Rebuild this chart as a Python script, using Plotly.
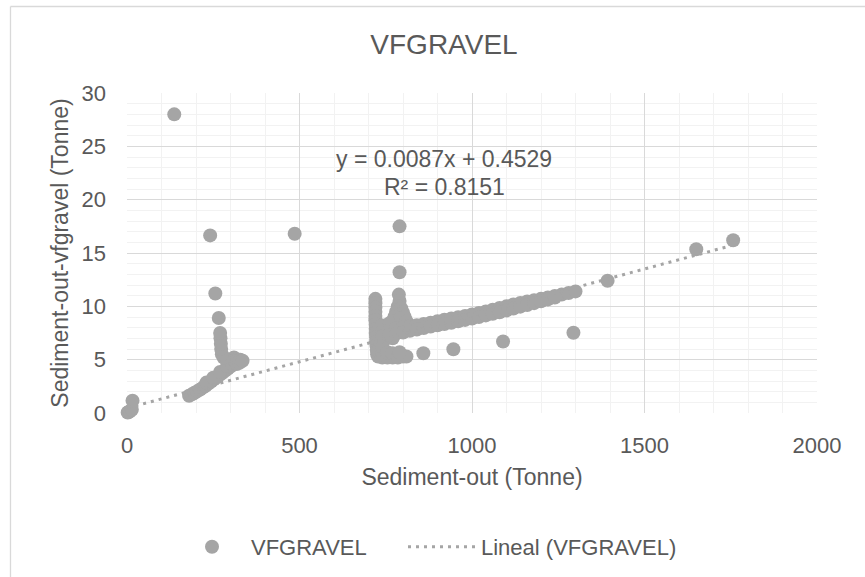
import plotly.graph_objects as go

# ---- data ----
sediment_out = [
    # near origin
    2, 5, 8, 14, 16,
    # left diagonal band
    180, 188, 196, 204, 212, 220, 228, 236, 244, 252, 260, 268, 276, 284, 292, 300,
    230, 250, 270, 290,
    # small blob ~300-330
    298, 305, 310, 312, 318, 320, 326, 328, 335,
    # chain upward
    280, 275, 273, 272, 271, 270, 266, 256, 241, 486, 137,
    # vertical bar at ~720
    720, 720, 720, 720, 720, 720, 721, 721, 721, 722, 722, 723, 724, 725,
    # spike ~790
    790, 790, 788, 790, 785, 795, 780, 800, 775, 805, 770, 790, 810,
    # fill between bar and band
    740, 755, 740, 760, 745, 770, 780, 800, 820, 760,
    # lower blob
    728, 728, 740, 740, 740, 755, 755, 770, 770, 785, 800, 810, 790,
    # band upper row
    740, 760, 780, 800, 820, 840, 860, 880, 900, 920, 940, 960, 980, 1000,
    1020, 1040, 1060, 1080, 1100, 1120, 1140, 1160, 1180, 1200, 1220, 1240,
    1260, 1280, 1300,
    # band lower row
    740, 760, 780, 800, 820, 840, 860, 880, 900, 920, 940, 960, 980, 1000,
    1020, 1040, 1060, 1080, 1100, 1120, 1140, 1160, 1180, 1200, 1220, 1240,
    # outliers
    859, 946, 1090, 1294, 1393, 1650, 1757,
]

vfgravel = [
    0.05, 0.1, 0.15, 0.3, 1.15,
    1.62, 1.75, 1.9, 2.05, 2.2, 2.38, 2.55, 2.75, 2.95, 3.15, 3.35, 3.55, 3.75, 3.95, 4.15, 4.35,
    2.85, 3.3, 3.85, 4.4,
    4.9, 4.6, 5.2, 4.9, 4.6, 5.0, 4.7, 5.0, 4.9,
    5.2, 5.5, 6.0, 6.5, 7.0, 7.5, 8.9, 11.2, 16.65, 16.8, 28.0,
    10.7, 10.3, 9.9, 9.5, 9.1, 8.7, 8.3, 7.9, 7.5, 7.1, 6.7, 6.3, 5.9, 5.5,
    17.5, 13.2, 11.1, 10.5, 10.0, 9.8, 9.5, 9.4, 9.0, 9.0, 8.6, 8.8, 8.6,
    8.2, 8.0, 7.5, 7.3, 6.8, 7.0, 7.6, 8.0, 8.2, 8.4,
    5.3, 5.8, 5.2, 5.7, 6.2, 5.2, 5.7, 5.2, 5.6, 5.2, 5.3, 5.3, 5.7,
    7.7, 7.8, 7.95, 8.05, 8.15, 8.22, 8.34, 8.46, 8.6, 8.74, 8.86, 8.98, 9.1, 9.23,
    9.38, 9.52, 9.68, 9.84, 10.0, 10.17, 10.32, 10.45, 10.58, 10.7, 10.83, 10.97,
    11.1, 11.25, 11.4,
    7.2, 7.3, 7.45, 7.55, 7.7, 7.82, 7.97, 8.1, 8.22, 8.34, 8.46, 8.6, 8.73, 8.86,
    9.0, 9.15, 9.3, 9.45, 9.62, 9.8, 9.97, 10.12, 10.3, 10.48, 10.65, 10.82,
    5.6, 5.97, 6.7, 7.53, 12.4, 15.35, 16.2,
]

trend_slope = 0.0087
trend_intercept = 0.4529
r_squared = 0.8151

series_name = "VFGRAVEL"
trend_name = "Lineal (VFGRAVEL)"
x_ticks = [0, 500, 1000, 1500, 2000]
y_ticks = [0, 5, 10, 15, 20, 25, 30]

# ---- styles ----
GREY = "#A5A5A5"
TEXT = "#595959"
FONT = "Liberation Sans, Arial, sans-serif"

x_min, x_max = min(sediment_out), max(sediment_out)
trend_x = [x_min, x_max]
trend_y = [trend_slope * v + trend_intercept for v in trend_x]

fig = go.Figure()
fig.add_trace(go.Scatter(
    x=sediment_out, y=vfgravel, mode="markers", name=series_name,
    marker=dict(color=GREY, size=14, line=dict(width=0)),
    cliponaxis=False, legendwidth=147,
))
fig.add_trace(go.Scatter(
    x=trend_x, y=trend_y, mode="lines", name=trend_name,
    line=dict(color=GREY, width=3, dash="3px,5px"),
    cliponaxis=False,
))

fig.add_annotation(
    x=920, y=23.8, xref="x", yref="y",
    text=f"y = {trend_slope}x + {trend_intercept}",
    showarrow=False, font=dict(size=23, color=TEXT, family=FONT),
    xanchor="center", yanchor="middle",
)
fig.add_annotation(
    x=920, y=21.2, xref="x", yref="y",
    text=f"R² = {r_squared}",
    showarrow=False, font=dict(size=23, color=TEXT, family=FONT),
    xanchor="center", yanchor="middle",
)

# chart-area border (left & top visible in the crop)
L, T, B = 127, 93, 413
PW, PH = 690, 320
bx = (10.5 - L) / PW
by_top = (B - 6.5) / PH
fig.add_shape(type="line", xref="paper", yref="paper",
              x0=bx, x1=bx, y0=by_top, y1=(B - 600) / PH,
              line=dict(color="#D9D9D9", width=1.3))
fig.add_shape(type="line", xref="paper", yref="paper",
              x0=bx, x1=(900 - L) / PW, y0=by_top, y1=by_top,
              line=dict(color="#D9D9D9", width=1.3))

fig.update_layout(
    width=865, height=577,
    margin=dict(l=L, r=865 - 817, t=T, b=577 - B, pad=0, autoexpand=False),
    paper_bgcolor="white", plot_bgcolor="white",
    font=dict(family=FONT, color=TEXT, size=22),
    title=dict(text=series_name, x=444 / 865, xanchor="center",
               y=1 - 44 / 577, yanchor="middle",
               font=dict(size=28, color=TEXT, family=FONT)),
    showlegend=True,
    legend=dict(orientation="h", x=(173 - L) / PW, xanchor="left",
                y=(B - 547) / PH, yanchor="middle", itemwidth=68,
                font=dict(size=22, color=TEXT, family=FONT),
                bgcolor="rgba(0,0,0,0)"),
)
fig.update_xaxes(
    range=[0, 2000], tickvals=x_ticks, ticks="", showline=False, zeroline=False,
    gridcolor="#D9D9D9", gridwidth=1.3, automargin=False,
    minor=dict(dtick=100, showgrid=True, gridcolor="#F2F2F2", gridwidth=1.3),
    tickfont=dict(size=22, color=TEXT), ticklabelstandoff=17,
    title=dict(text="Sediment-out (Tonne)", font=dict(size=23, color=TEXT), standoff=11),
)
fig.update_yaxes(
    range=[0, 30], tickvals=y_ticks, ticks="", showline=False, zeroline=False,
    gridcolor="#D9D9D9", gridwidth=1.3, automargin=False,
    minor=dict(dtick=1, showgrid=True, gridcolor="#F2F2F2", gridwidth=1.3),
    tickfont=dict(size=22, color=TEXT), ticklabelstandoff=20,
    title=dict(text="Sediment-out-vfgravel (Tonne)", font=dict(size=23, color=TEXT), standoff=6),
)

fig.write_html("out.html", config={"displayModeBar": False},
               post_script="document.body.style.margin='0';")
